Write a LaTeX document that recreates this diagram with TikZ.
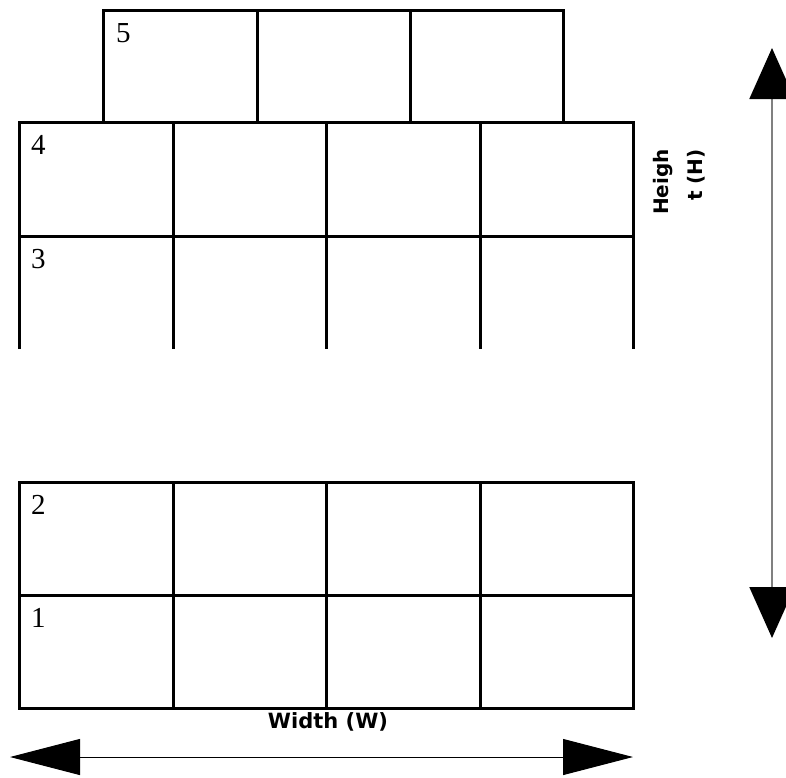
\documentclass[tikz,border=0pt]{standalone}
\usepackage{fontspec}
\setmainfont{Liberation Serif}
\newfontfamily\dimfont{DejaVu Sans}
\usetikzlibrary{arrows.meta}

\begin{document}
\begin{tikzpicture}[x=1pt,y=-1pt,
        cell/.style={line width=3pt},
        num/.style={anchor=north west,inner sep=0pt,font=\fontsize{29}{29}\selectfont},
        dim/.style={inner sep=0pt,font=\dimfont\bfseries\fontsize{20}{34}\selectfont}]
    \useasboundingbox (0,0) rectangle (786,777);
    % course 5
    \draw[cell] (103,10) rectangle (563,122);
    \foreach \x in {257,410} \draw[cell] (\x,10) -- (\x,122);
    % courses 4 and 3, open below
    \draw[cell] (19,349) -- (19,122) -- (633,122) -- (633,349);
    \draw[cell] (19,236) -- (633,236);
    \foreach \x in {173,326,480} \draw[cell] (\x,122) -- (\x,349);
    % courses 2 and 1
    \draw[cell] (19,482) rectangle (633,708);
    \draw[cell] (19,595) -- (633,595);
    \foreach \x in {173,326,480} \draw[cell] (\x,482) -- (\x,708);
    % course numbers
    \node[num] (n5) at (116,23) {5};
    \node[num] (n4) at (31,135) {4};
    \node[num] (n3) at (31,249) {3};
    \node[num] (n2) at (31,495) {2};
    \node[num] (n1) at (31,608) {1};
    % dimensions
    \coordinate (wl) at (10,757);
    \coordinate (wr) at (633,757);
    \draw[line width=1pt, {Triangle[length=70pt,width=36pt]}-{Triangle[length=70pt,width=36pt]}] (wl) -- (wr);
    \node[dim,anchor=base,font=\dimfont\bfseries\fontsize{21}{21}\selectfont] (width) at (328,728) {Width (W)};
    \coordinate (ht) at (772,48);
    \coordinate (hb) at (772,638);
    \draw[gray, line width=2pt, {Triangle[length=51pt,width=45pt,black]}-{Triangle[length=51pt,width=45pt,black]}] (ht) -- (hb);
    \node[dim,rotate=90,align=right] (height) at (679,182) {Heigh\\t (H)};
\end{tikzpicture}
\end{document}
